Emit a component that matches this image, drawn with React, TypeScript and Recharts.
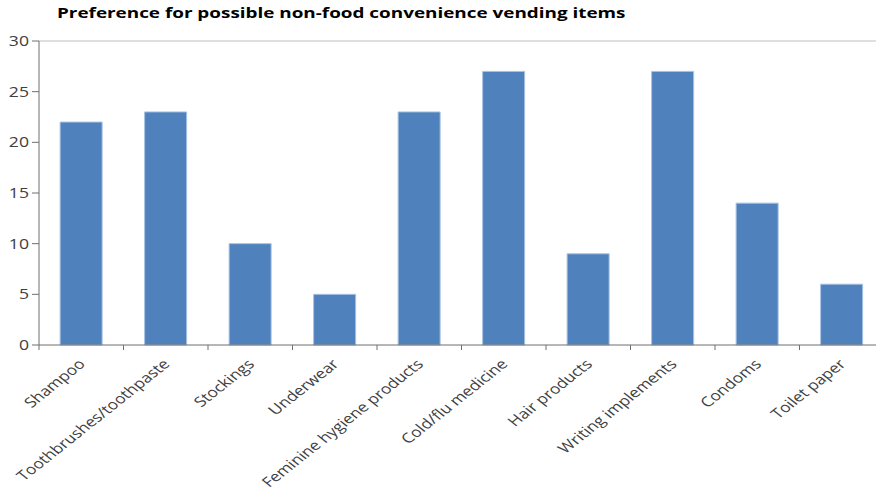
import React from "react";
import { BarChart, Bar, XAxis, YAxis, ReferenceLine } from "recharts";

const categories = [
  "Shampoo",
  "Toothbrushes/toothpaste",
  "Stockings",
  "Underwear",
  "Feminine hygiene products",
  "Cold/flu medicine",
  "Hair products",
  "Writing implements",
  "Condoms",
  "Toilet paper",
];
const counts = [22, 23, 10, 5, 23, 27, 9, 27, 14, 6];
const yTicks = [0, 5, 10, 15, 20, 25, 30];
const title = "Preference for possible non-food convenience vending items";

const data = categories.map((name, i) => ({ name, value: counts[i] }));

const FONT = "'Open Sans', 'DejaVu Sans', sans-serif";
const STRETCH = 1.26;
const AXIS = "#6f6f6f";

const XTick = (props: any) => {
  const { x, y, payload, index, visibleTicksCount } = props;
  const half = typeof payload?.offset === "number" ? payload.offset : 0;
  const axisY = y - 8;
  return (
    <g>
      {half > 0 && (
        <line x1={x - half} x2={x - half} y1={axisY} y2={axisY + 5} stroke={AXIS} />
      )}
      {half > 0 && index === visibleTicksCount - 1 && (
        <line x1={x + half} x2={x + half} y1={axisY} y2={axisY + 5} stroke={AXIS} />
      )}
      <g transform={`translate(${x + 5},${y + 12}) scale(${STRETCH},1)`}>
        <text
          x={0}
          y={0}
          textAnchor="end"
          transform="rotate(-45)"
          fontSize={13.8}
          fill="#404040"
          fontFamily={FONT}
        >
          {payload.value}
        </text>
      </g>
    </g>
  );
};

const YTick = (props: any) => {
  const { x, y, payload } = props;
  return (
    <g transform={`translate(${x - 1},${y}) scale(${STRETCH},1)`}>
      <text x={0} y={0} dy={5} textAnchor="end" fontSize={14} fill="#404040" fontFamily={FONT}>
        {payload.value}
      </text>
    </g>
  );
};

export default function App() {
  return (
    <div style={{ position: "absolute", left: 0, top: 0, width: 876, height: 490, overflow: "hidden", background: "#fff" }}>
      <div
        style={{
          position: "absolute",
          left: 57,
          top: 3,
          fontFamily: FONT,
          fontWeight: 700,
          fontSize: 14.3,
          color: "#000",
          whiteSpace: "nowrap",
          transform: `scaleX(1.32)`,
          transformOrigin: "left top",
        }}
      >
        {title}
      </div>
      <BarChart
        width={900}
        height={490}
        data={data}
        margin={{ top: 41, right: 16, left: 0, bottom: 0 }}
        barCategoryGap="25%"
      >
        <XAxis
          dataKey="name"
          interval={0}
          tickLine={false}
          axisLine={{ stroke: AXIS }}
          tick={<XTick />}
          height={145}
        />
        <YAxis
          domain={[0, 30]}
          ticks={yTicks}
          width={39}
          tickSize={7}
          axisLine={{ stroke: AXIS }}
          tickLine={{ stroke: AXIS }}
          tick={<YTick />}
          interval={0}
        />
        <ReferenceLine y={30} stroke="#c0c0c0" strokeWidth={1.2} />
        <Bar
          dataKey="value"
          fill="#4F81BD"
          stroke="#A7C1E3"
          strokeWidth={1}
          isAnimationActive={false}
        />
      </BarChart>
    </div>
  );
}
